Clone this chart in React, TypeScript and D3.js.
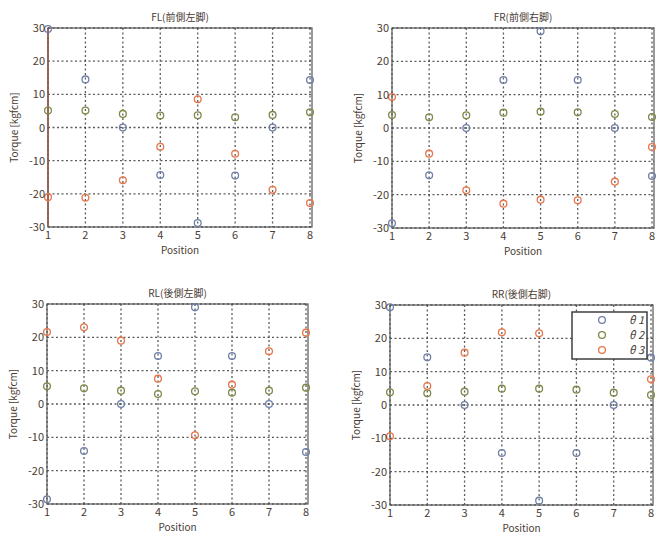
import React from 'react';
import * as d3 from 'd3';

const positions = [1, 2, 3, 4, 5, 6, 7, 8];
const yTicks = [-30, -20, -10, 0, 10, 20, 30];
const seriesNames = ['θ1', 'θ2', 'θ3'];
const seriesColors = ['#6f7fa8', '#7c8a48', '#e8764a'];

// torque values per leg, per series
const flTheta1 = [29.7, 14.5, 0, -14.3, -28.8, -14.5, 0, 14.3];
const flTheta2 = [5.1, 5.1, 4.1, 3.6, 3.7, 3.1, 3.8, 4.6];
const flTheta3 = [-21, -21.2, -15.9, -5.8, 8.5, -7.9, -18.8, -22.8];

const frTheta1 = [-28.6, -14.2, 0, 14.4, 29, 14.4, 0, -14.4];
const frTheta2 = [3.9, 3.2, 3.8, 4.6, 4.9, 4.7, 4.2, 3.3];
const frTheta3 = [9.3, -7.7, -18.7, -22.7, -21.5, -21.7, -16.1, -5.7];

const rlTheta1 = [-28.6, -14.1, 0, 14.4, 29, 14.4, 0, -14.4];
const rlTheta2 = [5.3, 4.7, 4, 3, 3.8, 3.4, 4, 4.9];
const rlTheta3 = [21.6, 23, 19, 7.6, -9.4, 5.8, 15.8, 21.4];

const rrTheta1 = [29.3, 14.3, 0, -14.4, -28.7, -14.4, 0, 14.2];
const rrTheta2 = [3.8, 3.5, 4, 4.9, 4.9, 4.6, 3.7, 3];
const rrTheta3 = [-9.4, 5.7, 15.7, 21.8, 21.5, 22, 17, 7.7];

type PanelProps = {
  title: string;
  left: number;
  right: number;
  top: number;
  bottom: number;
  series: number[][];
  leftAxisColor?: string;
  legend?: boolean;
};

const textColor = '#4a3c34';
const font = '"Noto Sans CJK JP", "DejaVu Sans", sans-serif';

function Panel({ title, left, right, top, bottom, series, leftAxisColor, legend }: PanelProps) {
  const x = d3.scaleLinear().domain([1, 8]).range([left, right - 2]);
  const y = d3.scaleLinear().domain([-30, 30]).range([bottom, top]);
  const midX = (left + right) / 2;

  return (
    <g>
      {/* grid */}
      {positions.map((p) => (
        <line key={'gx' + p} x1={x(p)} x2={x(p)} y1={top} y2={bottom}
          stroke="#333" strokeWidth={1.3} strokeDasharray="2,2.5" opacity={0.8} />
      ))}
      {yTicks.map((t) => (
        <line key={'gy' + t} x1={left} x2={right} y1={y(t)} y2={y(t)}
          stroke="#333" strokeWidth={1.3} strokeDasharray="2,2.5" opacity={0.8} />
      ))}
      {/* frame */}
      <rect x={left} y={top} width={right - left} height={bottom - top}
        fill="none" stroke="#555" strokeWidth={1.2} />
      {leftAxisColor && (
        <line x1={left} x2={left} y1={top} y2={bottom} stroke={leftAxisColor} strokeWidth={1.5} />
      )}
      {/* markers */}
      {series.map((vals, si) =>
        vals.map((v, i) => (
          <circle key={`m${si}-${i}`} cx={x(positions[i])} cy={y(v)} r={3.4}
            fill="none" stroke={seriesColors[si]} strokeWidth={1.3} />
        ))
      )}
      {/* tick labels */}
      {positions.map((p) => (
        <text key={'tx' + p} x={x(p)} y={bottom + 12} textAnchor="middle"
          fontSize={11} fontFamily={font} fill={textColor}>{p}</text>
      ))}
      {yTicks.map((t) => (
        <text key={'ty' + t} x={left - 3} y={y(t) + 4} textAnchor="end"
          fontSize={11} fontFamily={font} fill={textColor}>{t}</text>
      ))}
      <text x={midX} y={top - 7} textAnchor="middle" fontSize={10}
        fontFamily={font} fill={textColor}>{title}</text>
      <text x={midX} y={bottom + 27} textAnchor="middle" fontSize={10}
        fontFamily={font} fill={textColor}>Position</text>
      <text transform={`translate(${left - 30},${(top + bottom) / 2}) rotate(-90)`}
        textAnchor="middle" fontSize={10} fontFamily={font} fill={textColor}>Torque [kgfcm]</text>
      {legend && (
        <g>
          <rect x={572} y={312} width={75} height={47} fill="#fff" stroke="#333" strokeWidth={1.4} />
          {seriesNames.map((n, i) => (
            <g key={n}>
              <circle cx={602} cy={320 + i * 15} r={3.4} fill="none"
                stroke={seriesColors[i]} strokeWidth={1.3} />
              <text x={644} y={324 + i * 15} textAnchor="end" fontSize={11}
                fontStyle="italic" fontFamily={font} fill={textColor}>{n.replace('θ', 'θ ')}</text>
            </g>
          ))}
        </g>
      )}
    </g>
  );
}

export default function App() {
  return (
    <svg width={670} height={534} viewBox="0 0 670 534"
      style={{ position: 'absolute', left: 0, top: 0, background: '#fff' }}>
      <rect x={0} y={0} width={670} height={534} fill="#fff" />
      <Panel title="FL(前側左脚)" left={48} right={312} top={28} bottom={227}
        series={[flTheta1, flTheta2, flTheta3]} leftAxisColor="#9a5a48" />
      <Panel title="FR(前側右脚)" left={392} right={654} top={28} bottom={228}
        series={[frTheta1, frTheta2, frTheta3]} />
      <Panel title="RL(後側左脚)" left={47} right={308} top={304} bottom={504}
        series={[rlTheta1, rlTheta2, rlTheta3]} />
      <Panel title="RR(後側右脚)" left={390} right={653} top={305} bottom={505}
        series={[rrTheta1, rrTheta2, rrTheta3]} legend />
    </svg>
  );
}
